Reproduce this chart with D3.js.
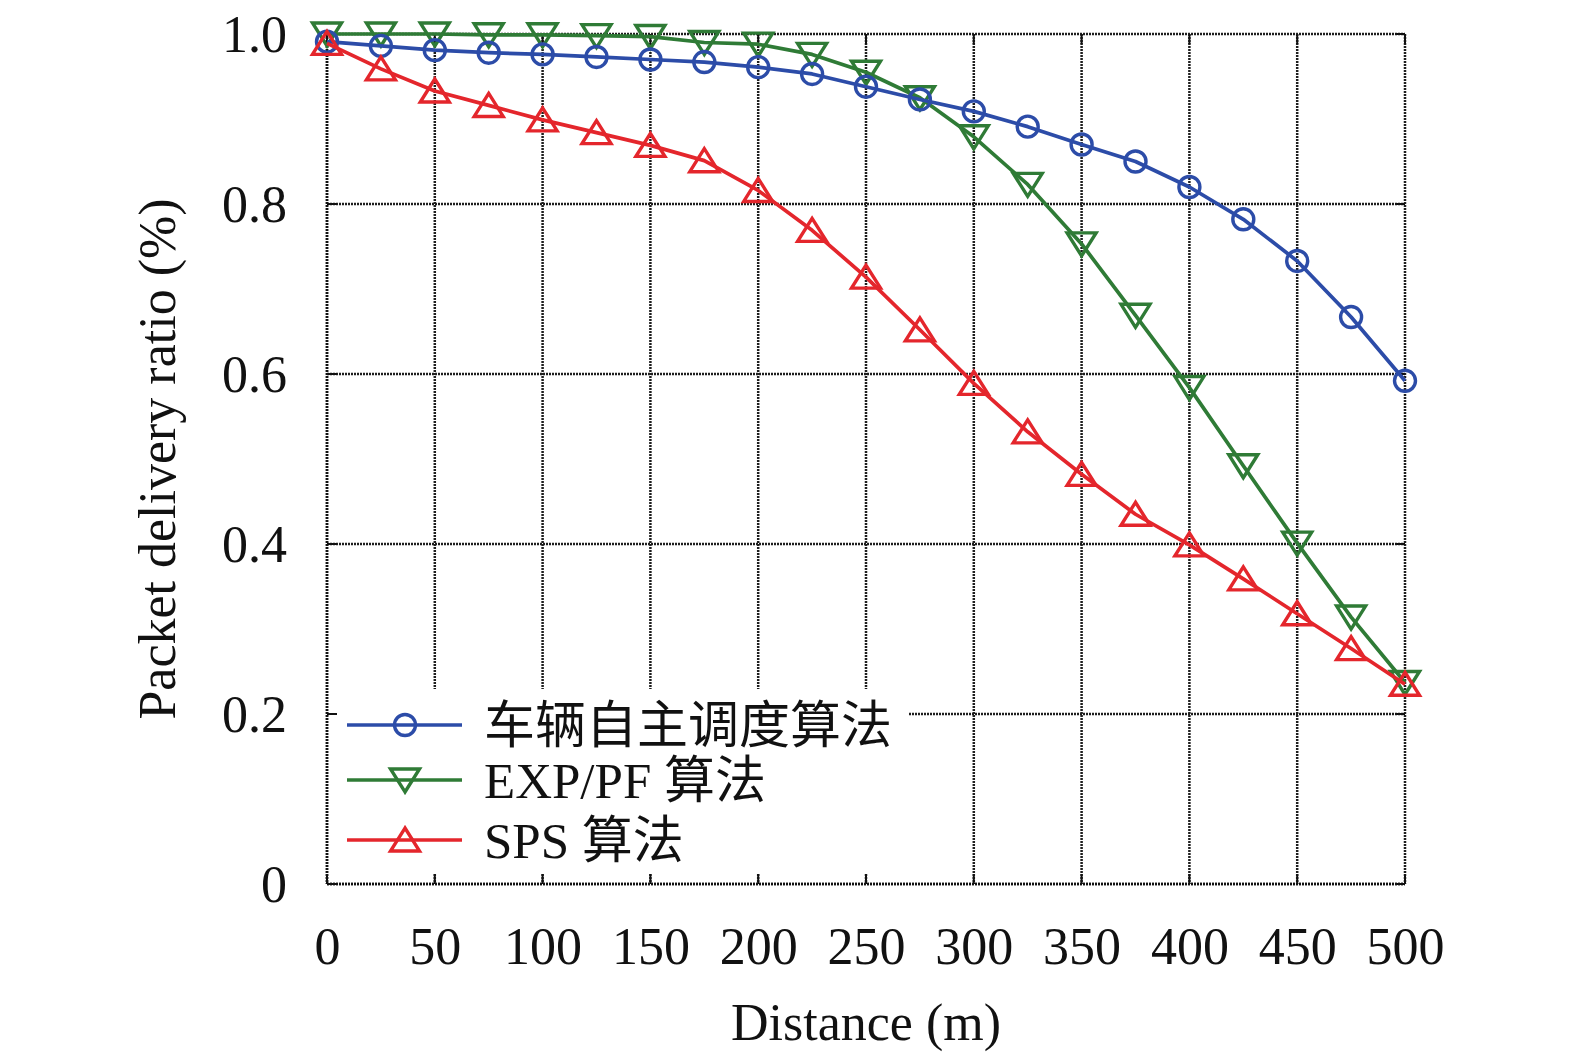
<!DOCTYPE html>
<html><head><meta charset="utf-8">
<script src="https://cdn.jsdelivr.net/npm/d3@7"></script>
<style>html,body{margin:0;padding:0;background:#fff}</style>
</head><body>
<svg id="c" width="1575" height="1063"></svg>
<script>
const distances = [0,25,50,75,100,125,150,175,200,225,250,275,300,325,350,375,400,425,450,475,500];
const vehicleAuto = [0.991,0.986,0.981,0.978,0.976,0.973,0.970,0.967,0.961,0.953,0.938,0.923,0.909,0.891,0.870,0.850,0.820,0.782,0.733,0.667,0.592];
const expPf = [1.0,1.0,1.0,0.999,0.999,0.998,0.997,0.990,0.988,0.976,0.955,0.925,0.879,0.823,0.753,0.669,0.584,0.492,0.401,0.314,0.237];
const sps = [0.989,0.959,0.933,0.916,0.899,0.884,0.869,0.851,0.816,0.769,0.714,0.652,0.589,0.532,0.482,0.435,0.399,0.359,0.318,0.277,0.235];
const seriesNames = ["车辆自主调度算法","EXP/PF 算法","SPS 算法"];
const xTicks = [0,50,100,150,200,250,300,350,400,450,500];
const yTicks = [0,0.2,0.4,0.6,0.8,1.0];
const yTickLabels = ["0","0.2","0.4","0.6","0.8","1.0"];
const xTitle = "Distance (m)";
const yTitle = "Packet delivery ratio (%)";

const colors = ["#2c4ca8","#2f7b36","#e4262c"];
const markers = ["circle","down","up"];
const font = "'Liberation Serif','Times New Roman','Noto Sans CJK SC',serif";

const L=327,R=1405,T=34,B=884;
const svg = d3.select("#c");
const x = d3.scaleLinear().domain([0,500]).range([L,R]);
const y = d3.scaleLinear().domain([0,1]).range([B,T]);

const gridStroke = "#1e1e1e", gridDash = "2,1", gridW = 2.5;
const g = svg.append("g");
g.selectAll(".vg").data(xTicks).join("line")
  .attr("x1",d=>x(d)).attr("x2",d=>x(d)).attr("y1",T).attr("y2",B)
  .attr("stroke",gridStroke).attr("stroke-width",gridW).attr("stroke-dasharray",gridDash);
g.selectAll(".hg").data(yTicks).join("line")
  .attr("x1",L).attr("x2",R).attr("y1",d=>y(d)).attr("y2",d=>y(d))
  .attr("stroke",gridStroke).attr("stroke-width",gridW).attr("stroke-dasharray",gridDash);

// legend background (covers grid)
svg.append("rect").attr("x",L+2).attr("y",689).attr("width",908-L-2).attr("height",874-689).attr("fill","#fff");

// ticks inward
const tk = svg.append("g").attr("stroke","#111").attr("stroke-width",2);
xTicks.forEach(d=>{
  tk.append("line").attr("x1",x(d)).attr("x2",x(d)).attr("y1",B).attr("y2",B-10);
  tk.append("line").attr("x1",x(d)).attr("x2",x(d)).attr("y1",T).attr("y2",T+10);
});
yTicks.forEach(d=>{
  tk.append("line").attr("x1",L).attr("x2",L+10).attr("y1",y(d)).attr("y2",y(d));
  tk.append("line").attr("x1",R).attr("x2",R-10).attr("y1",y(d)).attr("y2",y(d));
});

// axis frame (left & bottom)
svg.append("line").attr("x1",L).attr("x2",R).attr("y1",B).attr("y2",B).attr("stroke","#111").attr("stroke-width",2.5).attr("stroke-dasharray",gridDash);
svg.append("line").attr("x1",L).attr("x2",L).attr("y1",T).attr("y2",B).attr("stroke","#111").attr("stroke-width",2.5).attr("stroke-dasharray",gridDash);

// axis labels via d3 axes (text only)
const xAxis = d3.axisBottom(x).tickValues(xTicks).tickSize(0).tickPadding(0).tickFormat(d3.format("d"));
const xa = svg.append("g").attr("transform",`translate(0,${B})`).call(xAxis);
xa.select(".domain").remove();
xa.selectAll("text").attr("y",80).attr("dy",0).attr("font-family",font).attr("font-size",52).attr("fill","#111");

const yAxis = d3.axisLeft(y).tickValues(yTicks).tickSize(0).tickFormat((d,i)=>yTickLabels[i]);
const ya = svg.append("g").attr("transform",`translate(${L},0)`).call(yAxis);
ya.select(".domain").remove();
ya.selectAll("text").attr("x",-40).attr("dy","0.33em").attr("font-family",font).attr("font-size",52).attr("fill","#111");

// titles
svg.append("text").attr("x",866).attr("y",1040).attr("text-anchor","middle")
  .attr("font-family",font).attr("font-size",52).attr("fill","#111").text(xTitle);
svg.append("text").attr("transform","translate(175,459) rotate(-90)").attr("text-anchor","middle")
  .attr("font-family",font).attr("font-size",52).attr("fill","#111").text(yTitle);

// markers
function drawMarker(sel,type,cx,cy,color){
  if(type==="circle"){
    sel.append("circle").attr("cx",cx).attr("cy",cy).attr("r",10.5)
      .attr("fill","none").attr("stroke",color).attr("stroke-width",3.4);
  } else {
    const w=29,h=23;
    const s = type==="up"?1:-1;
    const pts = [[cx,cy-s*h*0.52],[cx-w/2,cy+s*h*0.48],[cx+w/2,cy+s*h*0.48]];
    sel.append("polygon").attr("points",pts.map(p=>p.join(",")).join(" "))
      .attr("fill","none").attr("stroke",color).attr("stroke-width",3.4).attr("stroke-linejoin","miter");
  }
}

const allSeries = [vehicleAuto, expPf, sps];
const line = d3.line().x((d,i)=>x(distances[i])).y(d=>y(d));
[1,0,2].forEach(k=>{
  const gs = svg.append("g");
  gs.append("path").datum(allSeries[k]).attr("d",line).attr("fill","none")
    .attr("stroke",colors[k]).attr("stroke-width",3.7).attr("stroke-linejoin","round");
  allSeries[k].forEach((v,i)=>drawMarker(gs,markers[k],x(distances[i]),y(v),colors[k]));
});

// legend
const legRows = [725,780,840];
seriesNames.forEach((name,k)=>{
  const yy = legRows[k];
  svg.append("line").attr("x1",347).attr("x2",462).attr("y1",yy).attr("y2",yy)
    .attr("stroke",colors[k]).attr("stroke-width",3.5);
  drawMarker(svg,markers[k],405,yy,colors[k]);
  svg.append("text").attr("x",484).attr("y",yy).attr("dy","0.36em")
    .attr("font-family",font).attr("font-size",51).attr("fill","#111").text(name);
});
</script>
</body></html>
